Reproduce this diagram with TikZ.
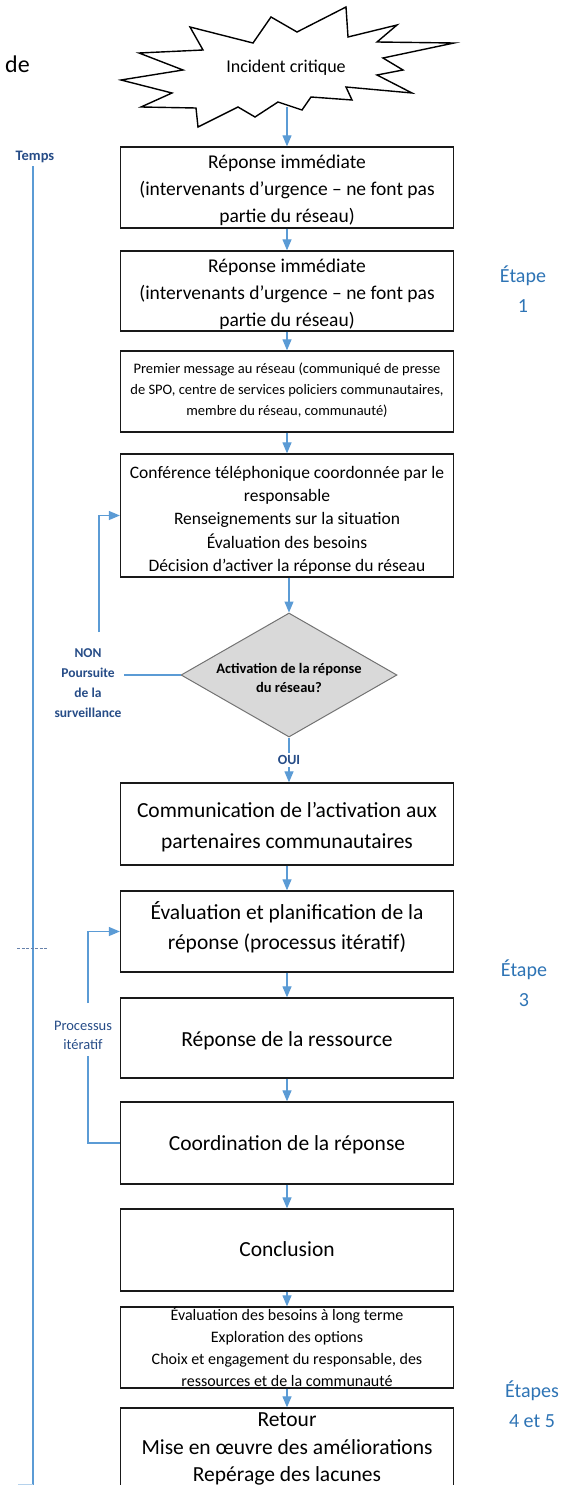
\documentclass[tikz,border=0pt]{standalone}
\usepackage{fontspec}
\setmainfont{Carlito}
\usetikzlibrary{arrows.meta,shapes.geometric}
\definecolor{arrowblue}{RGB}{91,155,213}
\definecolor{etapeblue}{RGB}{46,116,181}
\definecolor{labelblue}{RGB}{38,76,135}
\definecolor{diagray}{RGB}{217,217,217}
\newcommand\bxt[2]{\smash{\raisebox{-#1pt}{\begin{tabular}{@{}c@{}}#2\end{tabular}}}}
\begin{document}
\begin{tikzpicture}[x=1pt,y=-1pt,
  box/.style={draw=black!90, line width=1.3pt, minimum width=333pt, inner sep=0pt, text=black},
  arr/.style={draw=arrowblue, line width=1.2pt, -{Triangle[length=11pt,width=9pt]}},
  conn/.style={draw=arrowblue, line width=1.2pt},
  lbl/.style={text=labelblue, align=center, inner sep=0pt},
  etape/.style={text=etapeblue, align=center, inner sep=0pt, font=\fontsize{20}{30}\selectfont},
  big/.style={font=\fontsize{21.5}{31.5}\selectfont},
]
\clip (0,0) rectangle (569,1485);

% top-left fragment
\node[anchor=west, inner sep=0pt, font=\fontsize{24}{28}\selectfont] (de) at (5,64) {de};

% starburst
\draw[line width=1.4pt, fill=white, line join=miter]
  (346,7) -- (348,37) -- (397,25) -- (377,42) -- (454,43) -- (383,58) -- (403,70) -- (377,75)
  -- (412,93) -- (346,87) -- (352,100) -- (311,97) -- (302,110) -- (278,102) -- (255,117)
  -- (238,107) -- (198,127) -- (196,108) -- (141,107) -- (172,93) -- (121,80) -- (183,70)
  -- (139,53) -- (203,50) -- (190,27) -- (253,43) -- (271,17) -- (297,32) -- cycle;
\node[inner sep=0pt, font=\fontsize{18}{20}\selectfont] (inc) at (286,68) {Incident critique};
\coordinate (starb) at (287,107);

% time axis
\node[lbl, font=\bfseries\fontsize{14.5}{16}\selectfont] (temps) at (35,157) {Temps};
\coordinate (ttop) at (33,166);
\coordinate (tend) at (33,1500);
\draw[conn, line width=1.5pt] (ttop) -- (tend);
\draw[labelblue!70, line width=0.8pt, dash pattern=on 3pt off 1.5pt] (17,948) -- (48,948);
\draw[arrowblue!45, line width=1pt] (18,1484) -- (33,1484);

% boxes
\node[box, minimum height=81pt, font=\fontsize{19.5}{27}\selectfont] (b1) at (287,187.5)
  {\bxt{8}{Réponse immédiate\\(intervenants d’urgence – ne font pas\\partie du réseau)}};
\node[box, minimum height=80pt, font=\fontsize{19.5}{27}\selectfont] (b2) at (287,291)
  {\bxt{8}{Réponse immédiate\\(intervenants d’urgence – ne font pas\\partie du réseau)}};
\node[box, minimum height=81pt, font=\fontsize{14.5}{21}\selectfont] (b3) at (287,391.5)
  {\bxt{2.5}{Premier message au réseau (communiqué de presse\\de SPO, centre de services policiers communautaires,\\membre du réseau, communauté)}};
\node[box, minimum height=123pt, font=\fontsize{17.5}{23.3}\selectfont] (b4) at (287,515.5)
  {\bxt{9}{Conférence téléphonique coordonnée par le\\responsable\\Renseignements sur la situation\\Évaluation des besoins\\Décision d’activer la réponse du réseau}};
\node[diamond, aspect=1.742, draw=black!55, line width=1pt, fill=diagray, minimum width=216pt, minimum height=124pt,
  inner sep=0pt, font=\bfseries\fontsize{14.5}{19}\selectfont] (dia) at (289,675)
  {\bxt{8}{Activation de la réponse\\du réseau?}};
\node[box, minimum height=82pt, big] (b5) at (287,824)
  {\bxt{8}{Communication de l’activation aux\\partenaires communautaires}};
\node[box, minimum height=81pt, font=\fontsize{21.5}{30}\selectfont] (b6) at (287,931.5)
  {\bxt{2.5}{Évaluation et planification de la\\réponse (processus itératif)}};
\node[box, minimum height=80pt, big] (b7) at (287,1038) {\bxt{7}{Réponse de la ressource}};
\node[box, minimum height=82pt, big] (b8) at (287,1143) {\bxt{6}{Coordination de la réponse}};
\node[box, minimum height=82pt, big] (b9) at (287,1250) {\bxt{5}{Conclusion}};
\node[box, minimum height=81pt, font=\fontsize{16}{22}\selectfont] (b10) at (287,1347.5)
  {\bxt{6}{Évaluation des besoins à long terme\\Exploration des options\\Choix et engagement du responsable, des\\ressources et de la communauté}};
\node[box, minimum height=80pt, font=\fontsize{21.5}{27.5}\selectfont] (b11) at (287,1448)
  {\bxt{6}{Retour\\Mise en œuvre des améliorations\\Repérage des lacunes}};

% stage labels
\node[etape] (e1) at (523,289) {Étape\\1};
\node[etape] (e3) at (524,983) {Étape\\3};
\node[etape] (e45) at (532,1404) {Étapes\\4 et 5};

% main flow
\draw[arr] (starb) -- (starb |- b1.north);
\draw[arr] (b1) -- (b2);
\draw[arr] (b2) -- (b3);
\draw[arr] (b3) -- (b4);
\draw[arr] (b4.south -| dia.north) -- (dia.north);
\draw[arr] (dia.south) -- (dia.south |- b5.north)
  node[pos=0.5, fill=white, inner sep=2pt, text=labelblue, font=\bfseries\fontsize{14}{16}\selectfont] (oui) {OUI};
\draw[arr] (b5) -- (b6);
\draw[arr] (b6) -- (b7);
\draw[arr] (b7) -- (b8);
\draw[arr] (b8) -- (b9);
\draw[arr] (b9) -- (b10);
\draw[arr] (b10) -- (b11);

% NON loop
\node[lbl, font=\bfseries\fontsize{13.5}{20}\selectfont] (non) at (88,683) {NON\\Poursuite\\de la\\surveillance};
\coordinate (nonr) at (124,675);
\coordinate (nontop) at (99,632);
\draw[conn] (dia.west) -- (nonr);
\draw[arr] (nontop) |- (b4.west);

% iterative loop
\node[lbl, font=\fontsize{14.5}{19}\selectfont] (proc) at (83,1035) {Processus\\itératif};
\coordinate (proctop) at (88,1003);
\coordinate (procbot) at (88,1056);
\draw[arr] (proctop) |- (b6.west);
\draw[conn] (b8.west) -| (procbot);
\end{tikzpicture}
\end{document}
